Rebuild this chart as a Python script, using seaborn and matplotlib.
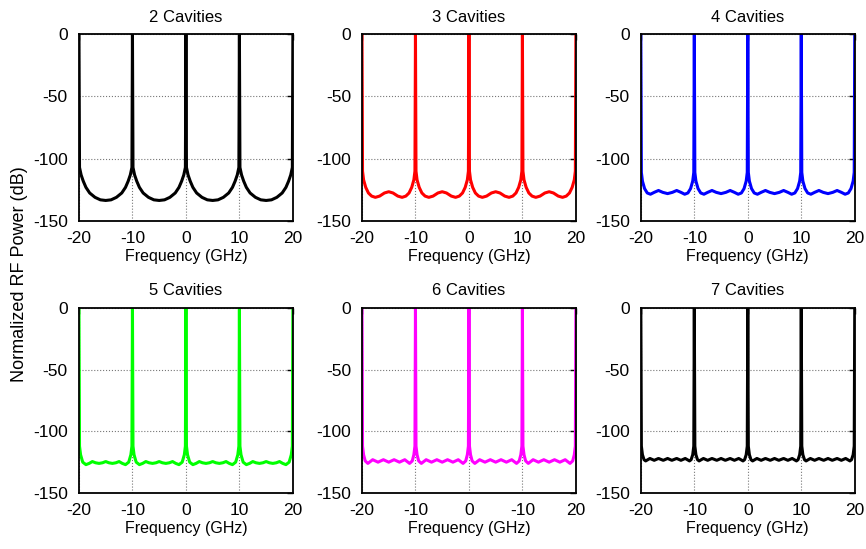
import matplotlib
matplotlib.use("Agg")
import matplotlib.pyplot as plt
import seaborn as sns

sns.set_style("white")
plt.rcParams['font.family'] = ['Liberation Sans', 'DejaVu Sans']
plt.rcParams['axes.unicode_minus'] = False
plt.rcParams['text.color'] = 'black'
plt.rcParams['axes.labelcolor'] = 'black'
plt.rcParams['xtick.color'] = 'black'
plt.rcParams['ytick.color'] = 'black'

# frequency axis points (GHz) and normalized RF power (dB)
freq_2 = [-20, -19.9, -19.6, -19.2, -18.7, -18, -17, -16, -15, -14, -13, -12, -11.3, -10.8, -10.4, -10.1,
          -10, -9.9, -9.6, -9.2, -8.7, -8, -7, -6, -5, -4, -3, -2, -1.3, -0.8, -0.4, -0.1,
          0, 0.1, 0.4, 0.8, 1.3, 2, 3, 4, 5, 6, 7, 8, 8.7, 9.2, 9.6, 9.9,
          10, 10.1, 10.4, 10.8, 11.3, 12, 13, 14, 15, 16, 17, 18, 18.7, 19.2, 19.6, 19.9, 20]
power_2 = [0, -107, -113, -118, -123, -127.5, -131, -133, -133.5, -133, -131, -127.5, -123, -118, -113, -107,
           0, -107, -113, -118, -123, -127.5, -131, -133, -133.5, -133, -131, -127.5, -123, -118, -113, -107,
           0, -107, -113, -118, -123, -127.5, -131, -133, -133.5, -133, -131, -127.5, -123, -118, -113, -107,
           0, -107, -113, -118, -123, -127.5, -131, -133, -133.5, -133, -131, -127.5, -123, -118, -113, -107, 0]

freq_3 = [-20, -19.9, -19.7, -19.3, -18.8, -18.2, -17.5, -16.7, -15.8, -15, -14.2, -13.3, -12.5, -11.8, -11.2, -10.7, -10.3, -10.1,
          -10, -9.9, -9.7, -9.3, -8.8, -8.2, -7.5, -6.7, -5.8, -5, -4.2, -3.3, -2.5, -1.8, -1.2, -0.7, -0.3, -0.1,
          0, 0.1, 0.3, 0.7, 1.2, 1.8, 2.5, 3.3, 4.2, 5, 5.8, 6.7, 7.5, 8.2, 8.8, 9.3, 9.7, 9.9,
          10, 10.1, 10.3, 10.7, 11.2, 11.8, 12.5, 13.3, 14.2, 15, 15.8, 16.7, 17.5, 18.2, 18.8, 19.3, 19.7, 19.9, 20]
power_3 = [0, -110, -117, -123, -127.5, -130, -131, -130, -127.5, -126.5, -127.5, -130, -131, -130, -127.5, -123, -117, -110,
           0, -110, -117, -123, -127.5, -130, -131, -130, -127.5, -126.5, -127.5, -130, -131, -130, -127.5, -123, -117, -110,
           0, -110, -117, -123, -127.5, -130, -131, -130, -127.5, -126.5, -127.5, -130, -131, -130, -127.5, -123, -117, -110,
           0, -110, -117, -123, -127.5, -130, -131, -130, -127.5, -126.5, -127.5, -130, -131, -130, -127.5, -123, -117, -110, 0]

freq_4 = [-20, -19.9, -19.7, -19.3, -18.8, -18.2, -17.5, -16.7, -15.9, -15, -14.1, -13.3, -12.5, -11.8, -11.2, -10.7, -10.3, -10.1,
          -10, -9.9, -9.7, -9.3, -8.8, -8.2, -7.5, -6.7, -5.9, -5, -4.1, -3.3, -2.5, -1.8, -1.2, -0.7, -0.3, -0.1,
          0, 0.1, 0.3, 0.7, 1.2, 1.8, 2.5, 3.3, 4.1, 5, 5.9, 6.7, 7.5, 8.2, 8.8, 9.3, 9.7, 9.9,
          10, 10.1, 10.3, 10.7, 11.2, 11.8, 12.5, 13.3, 14.1, 15, 15.9, 16.7, 17.5, 18.2, 18.8, 19.3, 19.7, 19.9, 20]
power_4 = [0, -111, -118, -124, -127.5, -128.5, -127, -125.5, -127, -128, -127, -125.5, -127, -128.5, -127.5, -124, -118, -111,
           0, -111, -118, -124, -127.5, -128.5, -127, -125.5, -127, -128, -127, -125.5, -127, -128.5, -127.5, -124, -118, -111,
           0, -111, -118, -124, -127.5, -128.5, -127, -125.5, -127, -128, -127, -125.5, -127, -128.5, -127.5, -124, -118, -111,
           0, -111, -118, -124, -127.5, -128.5, -127, -125.5, -127, -128, -127, -125.5, -127, -128.5, -127.5, -124, -118, -111, 0]

freq_5 = [-20, -19.9, -19.7, -19.3, -18.7, -18.1, -17.5, -16.9, -16.25, -15.6, -15, -14.4, -13.75, -13.1, -12.5, -11.9, -11.3, -10.7, -10.3, -10.1,
          -10, -9.9, -9.7, -9.3, -8.7, -8.1, -7.5, -6.9, -6.25, -5.6, -5, -4.4, -3.75, -3.1, -2.5, -1.9, -1.3, -0.7, -0.3, -0.1,
          0, 0.1, 0.3, 0.7, 1.3, 1.9, 2.5, 3.1, 3.75, 4.4, 5, 5.6, 6.25, 6.9, 7.5, 8.1, 8.7, 9.3, 9.7, 9.9,
          10, 10.1, 10.3, 10.7, 11.3, 11.9, 12.5, 13.1, 13.75, 14.4, 15, 15.6, 16.25, 16.9, 17.5, 18.1, 18.7, 19.3, 19.7, 19.9, 20]
power_5 = [0, -112, -119, -125, -127, -126, -124.5, -125.5, -126, -125.5, -124.5, -125.5, -126, -125.5, -124.5, -126, -127, -125, -119, -112,
           0, -112, -119, -125, -127, -126, -124.5, -125.5, -126, -125.5, -124.5, -125.5, -126, -125.5, -124.5, -126, -127, -125, -119, -112,
           0, -112, -119, -125, -127, -126, -124.5, -125.5, -126, -125.5, -124.5, -125.5, -126, -125.5, -124.5, -126, -127, -125, -119, -112,
           0, -112, -119, -125, -127, -126, -124.5, -125.5, -126, -125.5, -124.5, -125.5, -126, -125.5, -124.5, -126, -127, -125, -119, -112, 0]

freq_6 = [-20, -19.9, -19.7, -19.4, -18.9, -18, -17, -16, -15, -14, -13, -12, -11.1, -10.6, -10.3, -10.1,
          -10, -9.9, -9.7, -9.4, -8.9, -8, -7, -6, -5, -4, -3, -2, -1.1, -0.6, -0.3, -0.1,
          0, 0.1, 0.3, 0.6, 1.1, 2, 3, 4, 5, 6, 7, 8, 8.9, 9.4, 9.7, 9.9,
          10, 10.1, 10.3, 10.6, 11.1, 12, 13, 14, 15, 16, 17, 18, 18.9, 19.4, 19.7, 19.9, 20]
power_6 = [0, -112, -119, -124, -126, -123, -125, -123, -125, -123, -125, -123, -126, -124, -119, -112,
           0, -112, -119, -124, -126, -123, -125, -123, -125, -123, -125, -123, -126, -124, -119, -112,
           0, -112, -119, -124, -126, -123, -125, -123, -125, -123, -125, -123, -126, -124, -119, -112,
           0, -112, -119, -124, -126, -123, -125, -123, -125, -123, -125, -123, -126, -124, -119, -112, 0]

freq_7 = [-20, -19.9, -19.7, -19.4, -19.1, -18.3, -17.5, -16.7, -15.8, -15, -14.2, -13.3, -12.5, -11.7, -10.9, -10.6, -10.3, -10.1,
          -10, -9.9, -9.7, -9.4, -9.1, -8.3, -7.5, -6.7, -5.8, -5, -4.2, -3.3, -2.5, -1.7, -0.9, -0.6, -0.3, -0.1,
          0, 0.1, 0.3, 0.6, 0.9, 1.7, 2.5, 3.3, 4.2, 5, 5.8, 6.7, 7.5, 8.3, 9.1, 9.4, 9.7, 9.9,
          10, 10.1, 10.3, 10.6, 10.9, 11.7, 12.5, 13.3, 14.2, 15, 15.8, 16.7, 17.5, 18.3, 19.1, 19.4, 19.7, 19.9, 20]
power_7 = [0, -112, -119, -123, -124, -122, -123.5, -122, -123.5, -122, -123.5, -122, -123.5, -122, -124, -123, -119, -112,
           0, -112, -119, -123, -124, -122, -123.5, -122, -123.5, -122, -123.5, -122, -123.5, -122, -124, -123, -119, -112,
           0, -112, -119, -123, -124, -122, -123.5, -122, -123.5, -122, -123.5, -122, -123.5, -122, -124, -123, -119, -112,
           0, -112, -119, -123, -124, -122, -123.5, -122, -123.5, -122, -123.5, -122, -123.5, -122, -124, -123, -119, -112, 0]

titles = ['2 Cavities', '3 Cavities', '4 Cavities', '5 Cavities', '6 Cavities', '7 Cavities']
colors = ['#000000', '#ff0000', '#0000ff', '#00ff00', '#ff00ff', '#000000']
xticks = [-20, -10, 0, 10, 20]
xtick_labels = [['-20', '-10', '0', '10', '20']] * 4 + [['-20', '-10', '0', '-10', '20']] + [['-20', '-10', '0', '10', '20']]
yticks = [-150, -100, -50, 0]

freqs = [freq_2, freq_3, freq_4, freq_5, freq_6, freq_7]
powers = [power_2, power_3, power_4, power_5, power_6, power_7]

fig = plt.figure(figsize=(8.66, 5.49), dpi=100)
lefts = [0.0912, 0.418, 0.740]
bottoms = [0.5974, 0.102]
heights = [0.3406, 0.337]

for i in range(6):
    r, c = divmod(i, 3)
    ax = fig.add_axes([lefts[c], bottoms[r], 0.247, heights[r]])
    sns.lineplot(x=freqs[i], y=powers[i], ax=ax, color=colors[i], linewidth=2.2,
                 estimator=None, sort=False)
    ax.set_xlim(-20, 20)
    ax.set_ylim(-150, 0)
    ax.set_xticks(xticks)
    ax.set_xticklabels(xtick_labels[i])
    ax.set_yticks(yticks)
    ax.grid(True, linestyle=':', color='#777777', linewidth=0.8)
    ax.tick_params(direction='in', top=True, right=True, length=4, width=1, labelsize=12.5)
    ax.tick_params(axis='y', pad=8)
    ax.tick_params(axis='x', pad=7)
    for s in ax.spines.values():
        s.set_linewidth(1.3)
        s.set_color('black')
    ax.set_title(titles[i], fontsize=12, pad=9)
    ax.set_xlabel('Frequency (GHz)', fontsize=11.5, labelpad=2)
    ax.set_ylabel('')

fig.text(0.022, 0.5, 'Normalized RF Power (dB)', rotation=90, va='center', ha='center', fontsize=13)

fig.savefig('out.png', dpi=100)
